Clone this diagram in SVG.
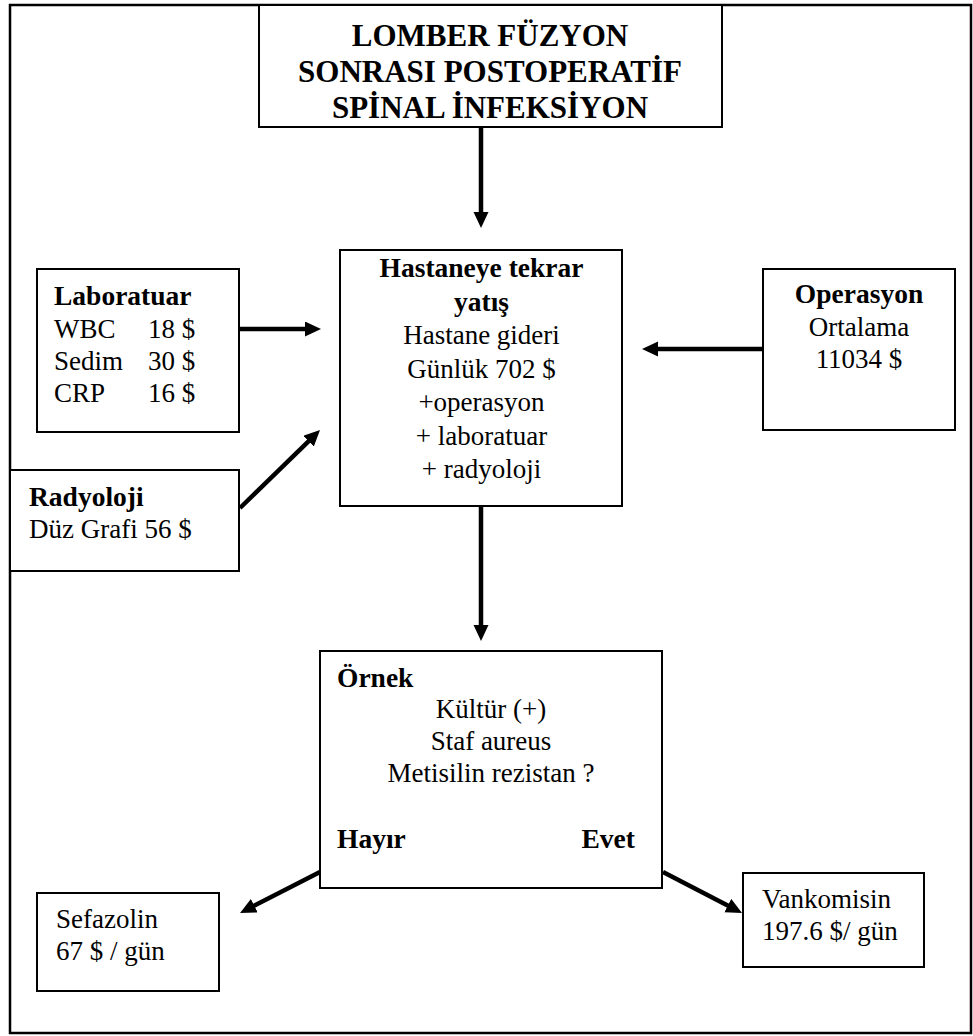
<svg xmlns="http://www.w3.org/2000/svg" width="973" height="1036" viewBox="0 0 973 1036" font-family="Liberation Serif, Times New Roman, Tinos, DejaVu Serif, serif">
<defs>
<style>
.box{fill:#fff;stroke:#000;stroke-width:2}
.frame{fill:none;stroke:#000;stroke-width:2.5}
.t{font-size:27px;fill:#000}
.b{font-weight:bold;font-size:27.5px}
.title{font-weight:bold;font-size:31px;fill:#000}
.c{text-anchor:middle}
.arr{stroke:#000;stroke-width:4.5;fill:none;marker-end:url(#ah)}
</style>
<marker id="ah" markerUnits="userSpaceOnUse" markerWidth="18" markerHeight="16" refX="2" refY="7.5" orient="auto">
<path d="M0,0 L16,7.5 L0,15 z" fill="#000"/>
</marker>
</defs>
<rect width="973" height="1036" fill="#fff"/>
<rect id="frame" class="frame" x="10" y="5" width="961" height="1028"/>

<g id="connectors">
<line class="arr" x1="481" y1="128" x2="481" y2="214"/>
<line class="arr" x1="481" y1="506" x2="481" y2="627"/>
<line class="arr" x1="239" y1="329" x2="307" y2="329"/>
<line class="arr" x1="763" y1="349" x2="656" y2="349"/>
<line class="arr" x1="240" y1="508" x2="310" y2="439.8"/>
<line class="arr" x1="320" y1="872" x2="252.5" y2="906.6"/>
<line class="arr" x1="663" y1="872" x2="729.6" y2="906.5"/>
</g>

<g id="title" font-family="Liberation Serif">
<rect class="box" x="259" y="5" width="463" height="122"/>
<text class="title c" x="490" y="46">LOMBER FÜZYON</text>
<text class="title c" x="490" y="82">SONRASI POSTOPERATİF</text>
<text class="title c" x="490" y="118">SPİNAL İNFEKSİYON</text>
</g>

<g id="hastane" font-family="Liberation Serif">
<rect class="box" x="340" y="250" width="282" height="256"/>
<text class="t b c" x="481.5" y="277">Hastaneye tekrar</text>
<text class="t b c" x="481.5" y="310.5">yatış</text>
<text class="t c" x="481.5" y="344">Hastane gideri</text>
<text class="t c" x="481.5" y="377.5">Günlük 702 $</text>
<text class="t c" x="481.5" y="411">+operasyon</text>
<text class="t c" x="481.5" y="444.5">+ laboratuar</text>
<text class="t c" x="481.5" y="478">+ radyoloji</text>
</g>

<g id="laboratuar" font-family="Liberation Serif">
<rect class="box" x="37" y="269" width="202" height="163"/>
<text class="t b" x="54" y="305">Laboratuar</text>
<text class="t" x="54" y="338">WBC</text><text class="t" x="148" y="338">18 $</text>
<text class="t" x="54" y="370">Sedim</text><text class="t" x="148" y="370">30 $</text>
<text class="t" x="54" y="402">CRP</text><text class="t" x="148" y="402">16 $</text>
</g>

<g id="radyoloji" font-family="Liberation Serif">
<rect class="box" x="10" y="470" width="229" height="101"/>
<text class="t b" x="29" y="506">Radyoloji</text>
<text class="t" x="29" y="538">Düz Grafi 56 $</text>
</g>

<g id="operasyon" font-family="Liberation Serif">
<rect class="box" x="763" y="269" width="192" height="161"/>
<text class="t b c" x="859" y="303">Operasyon</text>
<text class="t c" x="859" y="336">Ortalama</text>
<text class="t c" x="859" y="368">11034 $</text>
</g>

<g id="ornek" font-family="Liberation Serif">
<rect class="box" x="320" y="651" width="342" height="237"/>
<text class="t b" x="337" y="687">Örnek</text>
<text class="t c" x="491" y="718">Kültür (+)</text>
<text class="t c" x="491" y="750">Staf aureus</text>
<text class="t c" x="491" y="782">Metisilin rezistan ?</text>
<text class="t b" x="337" y="848">Hayır</text>
<text class="t b" x="635" y="848" text-anchor="end">Evet</text>
</g>

<g id="sefazolin" font-family="Liberation Serif">
<rect class="box" x="37" y="893" width="182" height="98"/>
<text class="t" x="56" y="928">Sefazolin</text>
<text class="t" x="56" y="960">67 $ / gün</text>
</g>

<g id="vankomisin" font-family="Liberation Serif">
<rect class="box" x="743" y="873" width="181" height="94"/>
<text class="t" x="762" y="908">Vankomisin</text>
<text class="t" x="762" y="940">197.6 $/ gün</text>
</g>
</svg>
